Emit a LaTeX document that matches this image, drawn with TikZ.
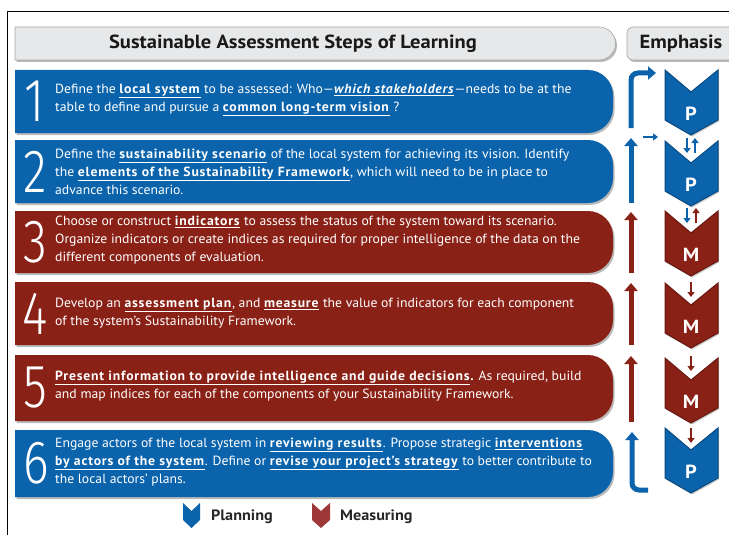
\documentclass[tikz,border=0pt]{standalone}
\usepackage{fontspec}
\setmainfont{PT Sans}[FakeStretch=1.08]
\newfontfamily\stepfont{PT Sans}[FakeStretch=1.03]
\newfontfamily\numfont{Fira Sans Light}
\usetikzlibrary{arrows.meta,shadows}

\definecolor{stepblue}{RGB}{10,99,171}
\definecolor{stepred}{RGB}{138,33,22}
\definecolor{legendred}{RGB}{158,56,56}
\definecolor{headgray}{RGB}{231,232,233}

\newcommand{\kw}[1]{\underline{\textbf{\addfontfeatures{LetterSpace=6}#1}}}
\newcommand{\kwit}[1]{\underline{\textbf{\textit{\addfontfeatures{LetterSpace=6}#1}}}}
% bar with a square left end and a rounded right end: colour, top, bottom
\newcommand{\stepbar}[3]{%
  \fill[#1,bar shadow] (15,#2) -- (588,#2)
    arc[start angle=-90,end angle=0,radius=25] -- (613,{#3-25})
    arc[start angle=0,end angle=90,radius=25] -- (15,#3) -- cycle;}
% chevron of the emphasis column: name, colour, top, letter
\newcommand{\chevron}[4]{%
  \fill[#2,chev shadow,draw=#2!75!black,line width=1pt]
    (665,#3) -- (691,{#3+22}) -- (718,#3) -- (718,{#3+50})
    -- (691,{#3+65}) -- (665,{#3+50}) -- cycle;
  \node[letter] (#1) at (691,{#3+44}) {#4};}

\begin{document}
\begin{tikzpicture}[x=1pt,y=-1pt,
    bar shadow/.style={drop shadow={shadow xshift=1.5pt,shadow yshift=-2pt,fill=black!60,opacity=.45}},
    chev shadow/.style={drop shadow={shadow xshift=1pt,shadow yshift=-1.5pt,fill=black!60,opacity=.35}},
    stepnum/.style={text=white,inner sep=0,font=\numfont\fontsize{61}{61}\selectfont},
    steptext/.style={anchor=west,text=white,align=left,inner sep=0,font=\stepfont\fontsize{13.3}{18}\selectfont},
    letter/.style={text=white,inner sep=0,font=\bfseries\fontsize{19}{19}\selectfont},
    headtext/.style={inner sep=0,text=black!90,font=\bfseries\fontsize{19}{19}\selectfont},
    legendtext/.style={anchor=west,inner sep=0,text=black!85,font=\bfseries\fontsize{15}{15}\selectfont},
    uparrow/.style={line width=5pt,-{Triangle[width=13pt,length=8pt]}},
    smallarrow/.style={line width=2.6pt,-{Triangle[width=7pt,length=5pt]}}]
  \clip (0,0) rectangle (729,535);
  \draw[line width=0.8pt] (7,535) -- (7,11) -- (729,11);

  % headings
  \fill[headgray,draw=black!35,line width=0.6pt,bar shadow] (15,27) -- (599,27)
    arc[start angle=-90,end angle=90,radius=16.5] -- (15,60) -- cycle;
  \fill[headgray,draw=black!35,line width=0.6pt,bar shadow,rounded corners=6]
    (627,27) rectangle (745,60);
  \node[headtext] (steps) at (293,43.5) {Sustainable Assessment Steps of Learning};
  \node[headtext] (emphasis) at (681,43.5) {Emphasis};

  % the six steps
  \stepbar{stepblue}{70}{133}
  \stepbar{stepblue}{140}{203}
  \stepbar{stepred}{211}{273}
  \stepbar{stepred}{282}{345}
  \stepbar{stepred}{355}{421}
  \stepbar{stepblue}{430}{497}

  \node[stepnum] (n1) at (35,101.5) {\scalebox{0.8}[1]{1}};
  \node[stepnum] (n2) at (35,171.5) {\scalebox{0.8}[1]{2}};
  \node[stepnum] (n3) at (35,242) {\scalebox{0.8}[1]{3}};
  \node[stepnum] (n4) at (35,313.5) {\scalebox{0.8}[1]{4}};
  \node[stepnum] (n5) at (35,388) {\scalebox{0.8}[1]{5}};
  \node[stepnum] (n6) at (36,463.5) {\scalebox{0.8}[1]{6}};

  \node[steptext] (t1) at (55,100) {Define the \kw{local system} to be assessed: Who—\kwit{which stakeholders}—needs to be at the\\
    table to define and pursue a \kw{common long-term vision} ?};
  \node[steptext] (t2) at (55,171.5) {Define the \kw{sustainability scenario} of the local system for achieving its vision. Identify\\
    the \kw{elements of the Sustainability Framework}, which will need to be in place to\\
    advance this scenario.};
  \node[steptext] (t3) at (55,240) {Choose or construct \kw{indicators} to assess the status of the system toward its scenario.\\
    Organize indicators or create indices as required for proper intelligence of the data on the\\
    different components of evaluation.};
  \node[steptext] (t4) at (55,313) {Develop an \kw{assessment plan}, and \kw{measure} the value of indicators for each component\\
    of the system’s Sustainability Framework.};
  \node[steptext] (t5) at (55,386) {\kw{Present information to provide intelligence and guide decisions}\textbf{.} As required, build\\
    and map indices for each of the components of your Sustainability Framework.};
  \node[steptext] (t6) at (55,462) {Engage actors of the local system in \kw{reviewing results}. Propose strategic \kw{interventions}\\
    \kw{by actors of the system}. Define or \kw{revise your project’s strategy} to better contribute to\\
    the local actors’ plans.};

  % arrows beside the steps
  \draw[uparrow,stepblue,rounded corners=7] (631,128) -- (631,73) -- (656,73);
  \draw[smallarrow,stepblue] (643,137) -- (658,137);
  \draw[uparrow,stepblue] (631,203) -- (631,138);
  \draw[uparrow,stepred] (631,273) -- (631,212);
  \draw[uparrow,stepred] (631,345) -- (631,283);
  \draw[uparrow,stepred] (631,422) -- (631,356);
  \draw[uparrow,stepblue,rounded corners=7] (648,490) -- (632,490) -- (632,432);

  % emphasis column
  \chevron{e1}{stepblue}{70}{P}
  \chevron{e2}{stepblue}{141}{P}
  \chevron{e3}{stepred}{211}{M}
  \chevron{e4}{stepred}{283}{M}
  \chevron{e5}{stepred}{358}{M}
  \chevron{e6}{stepblue}{428}{P}

  \draw[smallarrow,stepblue] (687,138) -- (687,153);
  \draw[smallarrow,stepblue] (695,153) -- (695,138);
  \draw[smallarrow,stepblue] (687,208) -- (687,223);
  \draw[smallarrow,stepred] (696,223) -- (696,208);
  \draw[smallarrow,stepred] (691,282) -- (691,297);
  \draw[smallarrow,stepred] (691,356) -- (691,371);
  \draw[smallarrow,stepred] (691,428) -- (691,443);

  % legend
  \fill[stepblue] (183,503) -- (191.5,511) -- (200,503) -- (200,520) -- (191.5,528) -- (183,520) -- cycle;
  \node[legendtext] (planning) at (211,517) {Planning};
  \fill[legendred] (312,503) -- (321,511) -- (330,503) -- (330,520) -- (321,528) -- (312,520) -- cycle;
  \node[legendtext] (measuring) at (340,517) {Measuring};
\end{tikzpicture}
\end{document}
